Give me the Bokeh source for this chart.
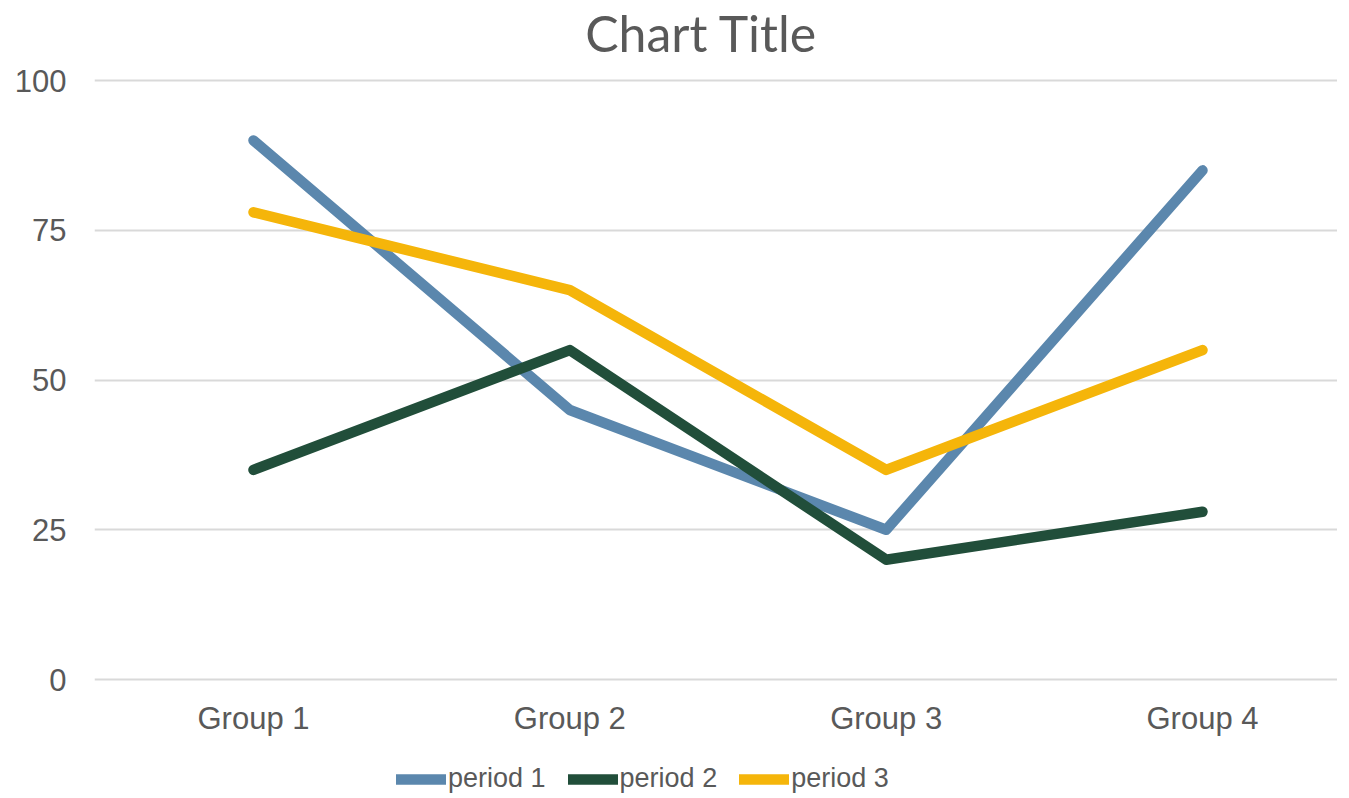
from bokeh.plotting import figure
from bokeh.models import Range1d, FixedTicker, Legend, LegendItem, Label
from bokeh.embed import file_html
from bokeh.resources import INLINE

categories = ["Group 1", "Group 2", "Group 3", "Group 4"]
period1 = [90, 45, 25, 85]
period2 = [35, 55, 20, 28]
period3 = [78, 65, 35, 55]
series_names = ["period 1", "period 2", "period 3"]
colors = ["#5B87AD", "#214E3A", "#F5B50A"]
y_ticks = [0, 25, 50, 75, 100]

xs = list(range(1, len(categories) + 1))

p = figure(width=1337, height=796, output_backend="svg", toolbar_location=None,
           x_range=Range1d(0.4974, 4.4268), y_range=Range1d(-19.53, 113.36),
           min_border_left=94, min_border_right=0, min_border_top=0, min_border_bottom=0)
p.outline_line_color = None
p.background_fill_color = "white"
p.border_fill_color = "white"

p.xgrid.grid_line_color = None
p.ygrid.grid_line_color = "#D9D9D9"
p.ygrid.grid_line_width = 2
p.yaxis.ticker = FixedTicker(ticks=y_ticks)
p.xaxis.ticker = FixedTicker(ticks=xs)
p.xaxis.major_label_overrides = {x: c for x, c in zip(xs, categories)}
p.xaxis.fixed_location = 0
for ax in (p.xaxis, p.yaxis):
    ax.axis_line_color = None
    ax.major_tick_line_color = None
    ax.minor_tick_line_color = None
    ax.major_label_text_font = "Liberation Sans"
    ax.major_label_text_font_size = "31px"
    ax.major_label_text_color = "#595959"
p.xaxis.major_label_standoff = 15
p.yaxis.major_label_standoff = 22

items = []
for name, vals, col in zip(series_names, [period1, period2, period3], colors):
    r = p.line(xs, vals, line_color=col, line_width=10.5, line_cap="round", line_join="round")
    items.append(LegendItem(label=name, renderers=[r]))

legend = Legend(items=items, orientation="horizontal", location=(302, 2),
                glyph_width=50, glyph_height=20, label_standoff=2, spacing=22,
                padding=0, margin=0, border_line_color=None, background_fill_alpha=0,
                label_text_font="Liberation Sans", label_text_font_size="27px",
                label_text_color="#595959")
p.add_layout(legend, "center")

title = Label(x=2.416, y=108.0, text="Chart Title", text_align="center", text_baseline="middle",
              text_font="Lato", text_font_size="50px", text_color="#595959")
p.add_layout(title)

open("out.html", "w").write(file_html(p, INLINE))
